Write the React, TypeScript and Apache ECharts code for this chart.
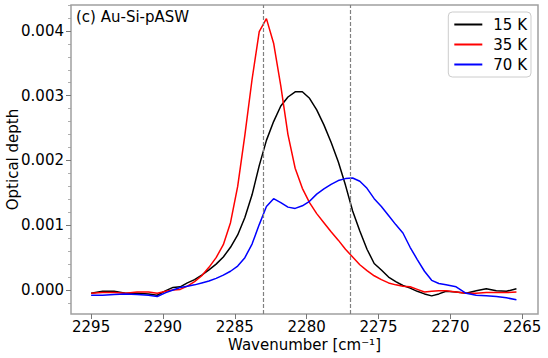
import React, { useEffect, useRef } from "react";
import * as echarts from "echarts";

const wavenumbers = [2295, 2294.2, 2293.4, 2292.6, 2291.8, 2291, 2290.4, 2289.8, 2289.3, 2288.8, 2288.3, 2287.8, 2287.3, 2286.8, 2286.3, 2285.8, 2285.3, 2284.8, 2284.3, 2283.8, 2283.3, 2282.8, 2282.3, 2281.8, 2281.3, 2280.8, 2280.3, 2279.8, 2279.3, 2278.8, 2278.3, 2277.8, 2277.3, 2276.8, 2276.3, 2275.8, 2275.3, 2274.8, 2274.3, 2273.8, 2273.3, 2272.8, 2272.3, 2271.8, 2271.3, 2270.8, 2270.3, 2269.6, 2268.9, 2268.2, 2267.5, 2266.8, 2266.1, 2265.4];

const od15K = [-0.00005, -0.00002, -0.00002, -0.00005, -0.00005, -0.00006, -0.00008, -0.00001, 0.00004, 0.00005, 0.00011, 0.00016, 0.00023, 0.00031, 0.0004, 0.00051, 0.00066, 0.00085, 0.00112, 0.00147, 0.00192, 0.00231, 0.0026, 0.00284, 0.00298, 0.00306, 0.00306, 0.00296, 0.00278, 0.00255, 0.00228, 0.00198, 0.00162, 0.00122, 0.00091, 0.00063, 0.00041, 0.00031, 0.0002, 0.00013, 0.00007, 0.00003, -0.00002, -0.00006, -0.00009, -0.00006, -0.00002, -0.00003, -0.00005, -0.00001, 0.00002, -0.00001, -0.00002, 0.00002];

const od35K = [-0.00005, -0.00004, -0.00004, -0.00005, -0.00003, -0.00003, -0.00005, -0.00002, 0.0, 0.00001, 0.00006, 0.00013, 0.00022, 0.00035, 0.0005, 0.0007, 0.00104, 0.0016, 0.00239, 0.00325, 0.00399, 0.00419, 0.00381, 0.00315, 0.0024, 0.00188, 0.00157, 0.00135, 0.00118, 0.00104, 0.0009, 0.00077, 0.00063, 0.00051, 0.00039, 0.0003, 0.00022, 0.00016, 0.00011, 0.00008, 0.00006, 0.00005, 0.00001, -0.00003, -0.00002, -0.00001, -0.00001, -0.00003, -0.00005, -0.00005, -0.00004, -0.00004, -0.00004, -0.00003];

const od70K = [-0.00008, -0.00008, -0.00007, -0.00006, -0.00007, -0.00008, -0.0001, -0.00004, 0.0, 0.00004, 0.00006, 0.00008, 0.00011, 0.00014, 0.00018, 0.00023, 0.00029, 0.00037, 0.0005, 0.00071, 0.00101, 0.00129, 0.00141, 0.00135, 0.00128, 0.00126, 0.0013, 0.00137, 0.00148, 0.00156, 0.00163, 0.00169, 0.00172, 0.00173, 0.00168, 0.00157, 0.00141, 0.00129, 0.00115, 0.00101, 0.00088, 0.00066, 0.00047, 0.00029, 0.00015, 0.0001, 0.00008, 0.00005, -0.00005, -0.00008, -0.00009, -0.0001, -0.00012, -0.00015];

const seriesNames = ["15 K", "35 K", "70 K"];
const seriesColors = ["#000000", "#ff0000", "#0000ff"];
const seriesValues = [od15K, od35K, od70K];

const xTicks = [2295, 2290, 2285, 2280, 2275, 2270, 2265];
const yTicks = [0, 0.001, 0.002, 0.003, 0.004];
const yMinorTicks = [-0.0002, 0.0002, 0.0004, 0.0006, 0.0008, 0.0012, 0.0014, 0.0016, 0.0018, 0.0022, 0.0024, 0.0026, 0.0028, 0.0032, 0.0034, 0.0036, 0.0038, 0.0042, 0.0044];
const markerLines = [2283, 2277];

const FONT = "DejaVu Sans";
const SPINE = "#a0a0a0";

export default function App() {
  const ref = useRef<HTMLDivElement>(null);
  useEffect(() => {
    if (!ref.current) return;
    const chart = echarts.init(ref.current, null, { renderer: "svg" });
    const series: any[] = seriesNames.map((name, i) => ({
      name,
      type: "line",
      data: wavenumbers.map((w, j) => [w, seriesValues[i][j]]),
      showSymbol: false,
      symbol: "none",
      smooth: false,
      color: seriesColors[i],
      itemStyle: { color: seriesColors[i] },
      lineStyle: { color: seriesColors[i], width: 1.5 },
      z: 3,
    }));
    series[0].markLine = {
      silent: true,
      symbol: ["none", "none"],
      label: { show: false },
      lineStyle: { type: [4, 2], color: "#808080", width: 1.2 },
      emphasis: { disabled: true },
      data: markerLines.map((v) => ({ xAxis: v })),
    };
    chart.setOption({
      animation: false,
      backgroundColor: "#ffffff",
      textStyle: { fontFamily: FONT },
      title: {
        text: "(c) Au-Si-pASW",
        left: 76,
        top: 9,
        padding: 0,
        textStyle: { fontFamily: FONT, fontSize: 15, fontWeight: "normal", color: "#000" },
      },
      legend: {
        orient: "vertical",
        right: 17,
        top: 12,
        padding: [5, 4, 5, 6],
        itemGap: 5,
        itemWidth: 28,
        itemHeight: 2,
        icon: "rect",
        borderColor: "#cccccc",
        borderWidth: 1,
        borderRadius: 4,
        backgroundColor: "rgba(255,255,255,0.8)",
        data: seriesNames,
        textStyle: { fontFamily: FONT, fontSize: 15, color: "#000", padding: [0, 0, 0, 6], lineHeight: 15 },
      },
      grid: {
        left: 71,
        right: 10,
        top: 5,
        bottom: 44,
        show: true,
        borderColor: SPINE,
        borderWidth: 1.5,
        containLabel: false,
        outerBoundsMode: "none",
      },
      xAxis: {
        type: "value",
        inverse: true,
        min: 2263.9,
        max: 2296.4,
        name: "Wavenumber [cm⁻¹]",
        nameLocation: "middle",
        nameGap: 23,
        nameMoveOverlap: false,
        nameTextStyle: { fontFamily: FONT, fontSize: 15, color: "#000" },
        axisLine: { show: false, onZero: false },
        axisTick: { show: true, length: 5, customValues: xTicks, lineStyle: { color: "#777", width: 1 } },
        axisLabel: {
          customValues: xTicks,
          margin: 5,
          fontFamily: FONT,
          fontSize: 15,
          color: "#000",
          formatter: (v: number) => String(Math.round(v)),
        },
        splitLine: { show: false },
      },
      yAxis: [
        {
          type: "value",
          min: -0.00037,
          max: 0.0044,
          name: "Optical depth",
          nameLocation: "middle",
          nameGap: 51,
          nameMoveOverlap: false,
          nameTextStyle: { fontFamily: FONT, fontSize: 15, color: "#000" },
          axisLine: { show: false, onZero: false },
          axisTick: { show: true, length: 5, customValues: yTicks, lineStyle: { color: "#777", width: 1 } },
          axisLabel: {
            customValues: yTicks,
            margin: 7,
            fontFamily: FONT,
            fontSize: 15,
            color: "#000",
            formatter: (v: number) => v.toFixed(3),
          },
          splitLine: { show: false },
        },
        {
          type: "value",
          position: "left",
          min: -0.00037,
          max: 0.0044,
          axisLine: { show: false, onZero: false },
          axisTick: { show: true, length: 3, customValues: yMinorTicks, lineStyle: { color: "#999", width: 0.8 } },
          axisLabel: { show: false },
          splitLine: { show: false },
        },
      ],
      series,
    });
    return () => chart.dispose();
  }, []);
  return (
    <div
      ref={ref}
      style={{ position: "fixed", left: 0, top: 0, width: 548, height: 358 }}
    />
  );
}
